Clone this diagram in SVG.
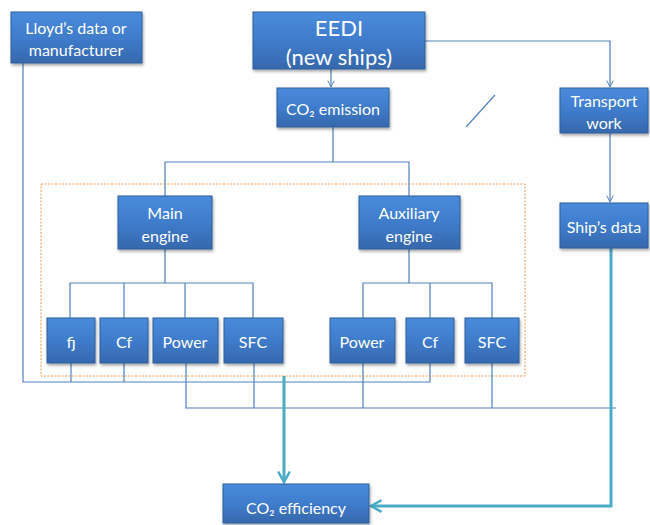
<svg xmlns="http://www.w3.org/2000/svg" width="650" height="525" viewBox="0 0 650 525">
<defs>
<linearGradient id="g" x1="0" y1="0" x2="0" y2="1">
<stop offset="0" stop-color="#4a8bdc"/>
<stop offset="0.5" stop-color="#3f7ccc"/>
<stop offset="1" stop-color="#3668ad"/>
</linearGradient>
<filter id="sh" x="-10%" y="-10%" width="130%" height="140%">
<feDropShadow dx="1" dy="2" stdDeviation="1.5" flood-color="#000" flood-opacity="0.35"/>
</filter>
<marker id="a" viewBox="0 0 10 10" refX="9" refY="5" markerWidth="8" markerHeight="8" orient="auto" markerUnits="userSpaceOnUse">
<path d="M1,1 L9,5 L1,9" fill="none" stroke="#4f81bd" stroke-width="1.2"/>
</marker>
<marker id="t" viewBox="0 0 12 12" refX="10" refY="6" markerWidth="14" markerHeight="14" orient="auto" markerUnits="userSpaceOnUse">
<path d="M1,1 L10,6 L1,11" fill="none" stroke="#4bacc6" stroke-width="2.2"/>
</marker>
</defs>
<style>
.b{fill:url(#g);stroke:#2f5e99;stroke-width:1;filter:url(#sh)}
.tx{fill:#fff;font-family:Lato,"Open Sans",sans-serif;font-size:16px;text-anchor:middle;dominant-baseline:central}
.big{font-size:22px}
.l{fill:none;stroke:#4f81bd;stroke-width:1.2}
.tl{fill:none;stroke:#4bacc6;stroke-width:3}
</style>
<rect x="0" y="0" width="650" height="525" fill="#fff"/>
<rect x="41" y="184" width="484" height="192" fill="none" stroke="#f79646" stroke-width="1" stroke-dasharray="2 1.5"/>
<g id="connectors">
<path class="l" d="M331,69 V87" marker-end="url(#a)"/>
<path class="l" d="M425,41 H610 V87" marker-end="url(#a)"/>
<path class="l" d="M610,133 V202" marker-end="url(#a)"/>
<path class="l" d="M466,127 L495,95"/>
<path class="l" d="M333,127 V162 M165,196 V162 H409 V196"/>
<path class="l" d="M165,249 V283 M70,318 V283 H253 V318 M124,283 V318 M185,283 V318"/>
<path class="l" d="M409,249 V283 M363,318 V283 H492 V318 M430,283 V318"/>
<path class="l" d="M23,63 V382 H430 V363 M71,363 V382 M124,363 V382"/>
<path class="l" d="M186,363 V408 H616 M254,363 V408 M363,363 V408 M492,363 V408"/>
<path class="tl" d="M284,376 V482" marker-end="url(#t)"/>
<path class="tl" d="M611,248 V506 H371" marker-end="url(#t)"/>
</g>
<g id="lloyds"><rect class="b" x="11" y="12" width="131" height="51"/><text class="tx" x="76" y="27">Lloyd’s data or</text><text class="tx" x="76" y="49">manufacturer</text></g>
<g id="eedi"><rect class="b" x="253" y="12" width="172" height="57"/><text class="tx big" x="339" y="27">EEDI</text><text class="tx big" x="339" y="56">(new ships)</text></g>
<g id="co2emission"><rect class="b" x="277" y="88" width="112" height="39"/><text class="tx" x="333" y="108">CO₂ emission</text></g>
<g id="transport"><rect class="b" x="560" y="88" width="88" height="45"/><text class="tx" x="604" y="100">Transport</text><text class="tx" x="604" y="122">work</text></g>
<g id="shipsdata"><rect class="b" x="560" y="203" width="88" height="45"/><text class="tx" x="604" y="226">Ship’s data</text></g>
<g id="mainengine"><rect class="b" x="118" y="196" width="94" height="53"/><text class="tx" x="165" y="212">Main</text><text class="tx" x="165" y="235">engine</text></g>
<g id="auxengine"><rect class="b" x="359" y="196" width="101" height="53"/><text class="tx" x="409" y="212">Auxiliary</text><text class="tx" x="409" y="235">engine</text></g>
<g id="fj"><rect class="b" x="47" y="318" width="48" height="45"/><text class="tx" x="71" y="341">fj</text></g>
<g id="cf1"><rect class="b" x="100" y="318" width="48" height="45"/><text class="tx" x="124" y="341">Cf</text></g>
<g id="power1"><rect class="b" x="153" y="318" width="65" height="45"/><text class="tx" x="185" y="341">Power</text></g>
<g id="sfc1"><rect class="b" x="224" y="318" width="59" height="45"/><text class="tx" x="253" y="341">SFC</text></g>
<g id="power2"><rect class="b" x="330" y="318" width="65" height="45"/><text class="tx" x="362" y="341">Power</text></g>
<g id="cf2"><rect class="b" x="406" y="318" width="48" height="45"/><text class="tx" x="430" y="341">Cf</text></g>
<g id="sfc2"><rect class="b" x="465" y="318" width="54" height="45"/><text class="tx" x="492" y="341">SFC</text></g>
<g id="co2eff"><rect class="b" x="223" y="484" width="146" height="39"/><text class="tx" x="296" y="507">CO₂ efficiency</text></g>
</svg>
